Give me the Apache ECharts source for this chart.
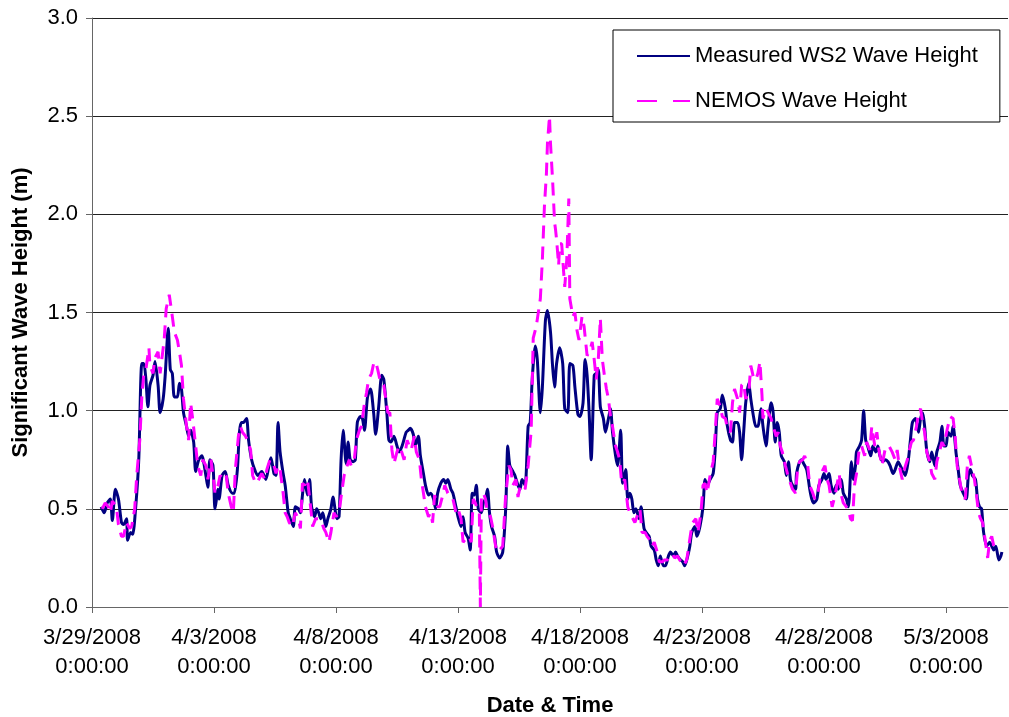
<!DOCTYPE html>
<html>
<head>
<meta charset="utf-8">
<script src="https://cdn.jsdelivr.net/npm/echarts@6/dist/echarts.min.js"></script>
<style>
  html, body { margin: 0; padding: 0; background: #ffffff; }
  #chart { width: 1009px; height: 717px; }
</style>
</head>
<body>
<div id="chart"></div>
<script>
// Time origin of the x axis: 3/29/2008 0:00:00, offsets are in hours
const startDate = Date.UTC(2008, 2, 29);
const xMaxHours = 901;
const dateTickHours = [0, 120, 240, 360, 480, 600, 720, 840];
const heightTicks = [0, 0.5, 1.0, 1.5, 2.0, 2.5, 3.0];

const seriesNames = ['Measured WS2 Wave Height', 'NEMOS Wave Height'];

// Measured WS2 significant wave height (m)
const measuredHours = [
  9, 12, 15, 18, 20, 23, 26, 29, 31, 34, 35, 38, 40, 43, 46, 49, 51, 53, 55, 57,
  60, 62, 65, 67, 70, 72, 75, 77, 79, 81, 84, 86, 88, 90, 93, 95, 97, 100, 102, 105,
  108, 112, 114, 116, 119, 121, 124, 125, 128, 131, 134, 138, 140, 143, 145, 147, 149, 152, 154, 157,
  160, 163, 167, 171, 174, 176, 179, 181, 183, 185, 188, 190, 193, 195, 198, 200, 203, 205, 207, 209,
  212, 214, 216, 219, 221, 223, 225, 227, 230, 232, 235, 237, 241, 243, 245, 247, 250, 252, 254, 257,
  259, 261, 264, 266, 268, 271, 274, 277, 279, 282, 285, 287, 290, 292, 294, 297, 300, 302, 305, 309,
  311, 313, 316, 318, 321, 323, 326, 328, 331, 333, 336, 338, 340, 343, 346, 348, 350, 353, 355, 358,
  360, 363, 365, 367, 370, 372, 374, 376, 378, 380, 383, 385, 387, 389, 391, 393, 396, 398, 401, 404,
  407, 409, 411, 414, 416, 419, 421, 423, 426, 429, 431, 433, 436, 438, 441, 443, 446, 448, 451, 453,
  455, 457, 460, 463, 465, 468, 470, 473, 475, 478, 480, 483, 485, 487, 489, 491, 494, 496, 498, 500,
  503, 505, 508, 510, 512, 515, 517, 520, 522, 525, 527, 529, 531, 533, 535, 538, 540, 543, 545, 548,
  550, 553, 555, 557, 559, 562, 564, 567, 569, 572, 574, 576, 579, 581, 583, 586, 588, 590, 593, 595,
  598, 601, 603, 605, 608, 611, 613, 615, 618, 620, 623, 625, 628, 630, 632, 635, 637, 639, 641, 643,
  646, 648, 651, 653, 655, 658, 660, 663, 665, 668, 670, 672, 674, 676, 678, 681, 683, 685, 687, 689,
  692, 693, 696, 698, 700, 703, 706, 708, 710, 713, 715, 718, 720, 722, 725, 727, 730, 732, 734, 737,
  739, 742, 744, 747, 749, 751, 752, 755, 757, 759, 761, 763, 766, 768, 771, 773, 775, 778, 780, 783,
  785, 788, 790, 793, 795, 797, 800, 803, 805, 807, 810, 813, 815, 817, 819, 821, 824, 826, 829, 831,
  834, 836, 838, 840, 842, 845, 847, 850, 852, 854, 857, 860, 862, 864, 866, 869, 871, 873, 875, 877,
  880, 883, 885, 887, 889, 892, 894, 895
];
const measuredHeight = [
  0.51, 0.48, 0.53, 0.55, 0.44, 0.60, 0.55, 0.43, 0.42, 0.45, 0.34, 0.38, 0.37, 0.51, 0.75, 1.24, 1.24, 1.16, 1.02, 1.13,
  1.18, 1.25, 1.13, 0.99, 1.06, 1.18, 1.42, 1.21, 1.19, 1.07, 1.07, 1.14, 1.11, 0.99, 0.92, 0.87, 0.90, 0.84, 0.69, 0.75,
  0.77, 0.67, 0.61, 0.75, 0.72, 0.50, 0.60, 0.55, 0.67, 0.69, 0.62, 0.58, 0.58, 0.70, 0.89, 0.94, 0.94, 0.96, 0.85, 0.75,
  0.70, 0.67, 0.69, 0.65, 0.72, 0.76, 0.68, 0.67, 0.94, 0.79, 0.68, 0.62, 0.48, 0.45, 0.41, 0.51, 0.50, 0.48, 0.57, 0.65,
  0.57, 0.65, 0.51, 0.46, 0.50, 0.48, 0.45, 0.48, 0.41, 0.45, 0.50, 0.56, 0.45, 0.46, 0.75, 0.90, 0.73, 0.84, 0.75, 0.74,
  0.75, 0.94, 0.97, 0.96, 0.90, 1.07, 1.11, 0.99, 0.88, 1.02, 1.18, 1.16, 0.99, 0.85, 0.84, 0.87, 0.82, 0.79, 0.82, 0.89,
  0.90, 0.91, 0.88, 0.82, 0.87, 0.77, 0.68, 0.62, 0.57, 0.58, 0.55, 0.50, 0.58, 0.63, 0.65, 0.63, 0.65, 0.60, 0.58, 0.51,
  0.46, 0.41, 0.46, 0.38, 0.35, 0.29, 0.58, 0.57, 0.62, 0.50, 0.48, 0.53, 0.55, 0.60, 0.48, 0.41, 0.36, 0.28, 0.25, 0.28,
  0.51, 0.82, 0.72, 0.69, 0.67, 0.62, 0.60, 0.65, 0.62, 0.92, 0.94, 1.16, 1.33, 1.26, 0.99, 1.12, 1.46, 1.51, 1.40, 1.23,
  1.12, 1.24, 1.32, 1.24, 1.01, 0.99, 1.24, 1.23, 1.12, 0.98, 0.97, 1.04, 1.26, 1.18, 0.99, 0.75, 1.18, 1.19, 1.21, 1.02,
  0.96, 0.89, 0.96, 1.01, 0.89, 0.77, 0.72, 0.90, 0.63, 0.70, 0.55, 0.58, 0.55, 0.48, 0.50, 0.45, 0.51, 0.40, 0.38, 0.36,
  0.31, 0.29, 0.24, 0.21, 0.26, 0.21, 0.21, 0.26, 0.28, 0.26, 0.28, 0.26, 0.24, 0.23, 0.21, 0.26, 0.31, 0.38, 0.41, 0.36,
  0.41, 0.51, 0.65, 0.62, 0.65, 0.68, 0.80, 0.99, 1.01, 1.08, 1.01, 0.92, 0.85, 0.84, 0.94, 0.94, 0.89, 0.75, 0.89, 1.04,
  1.14, 1.06, 0.96, 0.92, 0.92, 1.01, 0.92, 0.82, 0.92, 1.04, 0.99, 0.84, 0.94, 0.89, 0.77, 0.74, 0.67, 0.74, 0.65, 0.62,
  0.60, 0.68, 0.74, 0.75, 0.73, 0.70, 0.60, 0.55, 0.53, 0.55, 0.62, 0.65, 0.68, 0.65, 0.68, 0.62, 0.58, 0.62, 0.60, 0.65,
  0.58, 0.55, 0.51, 0.74, 0.65, 0.72, 0.79, 0.82, 0.85, 1.00, 0.85, 0.82, 0.77, 0.82, 0.79, 0.82, 0.77, 0.74, 0.75, 0.74,
  0.72, 0.68, 0.70, 0.74, 0.72, 0.70, 0.67, 0.75, 0.85, 0.94, 0.96, 0.89, 0.96, 0.99, 0.92, 0.80, 0.74, 0.79, 0.72, 0.79,
  0.84, 0.92, 0.82, 0.82, 0.89, 0.87, 0.92, 0.78, 0.70, 0.62, 0.58, 0.55, 0.67, 0.70, 0.67, 0.65, 0.55, 0.51, 0.50, 0.38,
  0.31, 0.33, 0.31, 0.29, 0.31, 0.24, 0.26, 0.28
];

// NEMOS modelled significant wave height (m)
const nemosHours = [
  10, 13, 16, 18, 20, 24, 26, 29, 31, 34, 37, 39, 42, 44, 47, 49, 51, 53, 56, 57,
  60, 62, 65, 67, 71, 73, 76, 79, 81, 84, 86, 88, 90, 93, 95, 97, 99, 102, 104, 107,
  109, 112, 114, 117, 120, 121, 124, 126, 130, 132, 134, 137, 139, 141, 144, 146, 148, 151, 153, 156,
  158, 161, 163, 167, 170, 172, 175, 179, 181, 183, 185, 188, 190, 192, 194, 197, 200, 203, 205, 207,
  209, 212, 215, 217, 220, 223, 226, 228, 230, 233, 235, 238, 240, 243, 245, 248, 251, 253, 255, 258,
  260, 263, 265, 268, 270, 272, 275, 277, 279, 281, 284, 287, 289, 291, 293, 295, 297, 300, 302, 304,
  307, 310, 312, 314, 317, 319, 322, 324, 326, 328, 331, 333, 335, 337, 340, 342, 345, 347, 350, 352,
  355, 358, 360, 363, 365, 368, 371, 373, 375, 377, 379, 381, 382, 383, 385, 387, 389, 392, 394, 397,
  399, 401, 404, 407, 408, 410, 412, 414, 417, 419, 421, 423, 426, 429, 432, 434, 437, 441, 443, 445,
  447, 448, 450, 451, 453, 455, 456, 457, 459, 460, 462, 464, 465, 467, 469, 470, 473, 475, 477, 479,
  482, 484, 487, 490, 492, 494, 496, 498, 500, 502, 504, 506, 508, 510, 512, 515, 517, 519, 521, 524,
  527, 529, 531, 534, 536, 539, 541, 544, 546, 549, 551, 553, 556, 558, 561, 563, 566, 568, 571, 573,
  576, 578, 580, 582, 585, 587, 589, 591, 594, 596, 599, 601, 603, 605, 608, 611, 613, 615, 618, 620,
  623, 625, 628, 630, 632, 635, 637, 639, 641, 643, 646, 648, 651, 653, 655, 657, 659, 660, 663, 665,
  668, 670, 673, 675, 677, 679, 682, 684, 687, 689, 692, 694, 696, 699, 701, 704, 706, 709, 711, 714,
  716, 719, 721, 723, 725, 728, 731, 733, 735, 737, 739, 742, 744, 746, 748, 750, 752, 755, 757, 760,
  762, 765, 767, 770, 772, 774, 777, 780, 782, 784, 787, 790, 792, 794, 797, 799, 802, 804, 806, 808,
  811, 813, 815, 817, 819, 821, 824, 826, 829, 831, 834, 836, 838, 841, 844, 847, 849, 851, 854, 856,
  859, 861, 863, 865, 868, 870, 872, 874, 876, 878, 881, 883, 885, 887, 890, 892
];
const nemosHeight = [
  0.50, 0.53, 0.51, 0.48, 0.54, 0.51, 0.42, 0.36, 0.36, 0.43, 0.40, 0.41, 0.50, 0.67, 0.85, 1.07, 1.19, 1.21, 1.32, 1.23,
  1.19, 1.27, 1.30, 1.19, 1.36, 1.52, 1.59, 1.48, 1.40, 1.36, 1.30, 1.23, 1.06, 0.92, 0.85, 1.04, 0.96, 0.82, 0.72, 0.67,
  0.75, 0.72, 0.65, 0.75, 0.63, 0.58, 0.62, 0.67, 0.65, 0.67, 0.58, 0.51, 0.48, 0.70, 0.87, 0.92, 0.89, 0.87, 0.85, 0.80,
  0.67, 0.63, 0.64, 0.68, 0.65, 0.70, 0.75, 0.72, 0.68, 0.72, 0.70, 0.58, 0.48, 0.46, 0.43, 0.41, 0.48, 0.45, 0.40, 0.63,
  0.62, 0.65, 0.51, 0.41, 0.45, 0.45, 0.43, 0.40, 0.38, 0.33, 0.38, 0.48, 0.46, 0.48, 0.56, 0.67, 0.72, 0.75, 0.72, 0.75,
  0.85, 0.90, 0.92, 1.04, 1.09, 1.16, 1.19, 1.24, 1.25, 1.21, 1.14, 1.13, 1.06, 0.99, 0.99, 0.80, 0.73, 0.79, 0.82, 0.80,
  0.75, 0.85, 0.82, 0.80, 0.87, 0.79, 0.75, 0.65, 0.58, 0.51, 0.46, 0.48, 0.43, 0.57, 0.51, 0.51, 0.57, 0.62, 0.58, 0.57,
  0.55, 0.48, 0.50, 0.45, 0.33, 0.35, 0.36, 0.33, 0.55, 0.53, 0.50, 0.48, 0.00, 0.56, 0.58, 0.55, 0.48, 0.46, 0.41, 0.31,
  0.28, 0.29, 0.31, 0.58, 0.62, 0.72, 0.70, 0.62, 0.65, 0.56, 0.61, 0.62, 0.60, 0.72, 0.90, 1.37, 1.43, 1.57, 1.77, 2.04,
  2.21, 2.36, 2.50, 2.36, 2.18, 1.96, 1.92, 1.87, 1.74, 1.85, 1.85, 1.70, 1.63, 1.77, 2.08, 1.57, 1.48, 1.50, 1.41, 1.36,
  1.48, 1.43, 1.28, 1.31, 1.35, 1.26, 1.16, 1.26, 1.47, 1.26, 1.18, 1.11, 1.06, 0.97, 0.92, 0.82, 0.79, 0.75, 0.63, 0.65,
  0.51, 0.48, 0.46, 0.43, 0.46, 0.50, 0.38, 0.38, 0.36, 0.34, 0.31, 0.33, 0.28, 0.23, 0.23, 0.24, 0.24, 0.26, 0.27, 0.25,
  0.26, 0.24, 0.23, 0.21, 0.24, 0.31, 0.38, 0.43, 0.45, 0.38, 0.48, 0.62, 0.63, 0.58, 0.67, 0.74, 0.89, 1.06, 1.02, 0.97,
  0.96, 0.91, 0.89, 1.04, 1.11, 1.06, 0.99, 1.13, 1.14, 1.06, 1.09, 1.23, 1.16, 1.16, 1.19, 1.25, 1.08, 0.96, 1.01, 0.99,
  0.96, 0.92, 0.87, 0.89, 0.82, 0.79, 0.72, 0.68, 0.63, 0.60, 0.58, 0.70, 0.74, 0.75, 0.77, 0.72, 0.62, 0.58, 0.55, 0.58,
  0.65, 0.70, 0.72, 0.65, 0.62, 0.51, 0.57, 0.63, 0.68, 0.57, 0.53, 0.51, 0.50, 0.45, 0.44, 0.62, 0.68, 0.82, 0.82, 0.77,
  0.84, 0.80, 0.92, 0.82, 0.89, 0.80, 0.72, 0.80, 0.82, 0.82, 0.79, 0.75, 0.80, 0.72, 0.65, 0.70, 0.75, 0.80, 0.84, 0.85,
  0.92, 0.99, 1.01, 0.94, 0.89, 0.79, 0.74, 0.68, 0.65, 0.74, 0.80, 0.84, 0.82, 0.90, 0.97, 0.96, 0.87, 0.72, 0.63, 0.57,
  0.55, 0.72, 0.77, 0.72, 0.65, 0.57, 0.48, 0.45, 0.43, 0.36, 0.25, 0.34, 0.36, 0.31, 0.29, 0.28
];

const pairs = (xs, ys) => xs.map((x, i) => [x, ys[i]]);

function formatDateTick(hours) {
  const d = new Date(startDate + hours * 3600000);
  const hh = d.getUTCHours();
  const mm = String(d.getUTCMinutes()).padStart(2, '0');
  const ss = String(d.getUTCSeconds()).padStart(2, '0');
  return (d.getUTCMonth() + 1) + '/' + d.getUTCDate() + '/' + d.getUTCFullYear() +
    '\n' + hh + ':' + mm + ':' + ss;
}

const FONT = '"Liberation Sans", Arial, sans-serif';

const chart = echarts.init(document.getElementById('chart'), null, { renderer: 'canvas' });
chart.setOption({
  backgroundColor: '#ffffff',
  animation: false,
  textStyle: { fontFamily: FONT, color: '#000' },
  grid: { left: 92, right: 1, top: 18, bottom: 110, containLabel: false, outerBoundsMode: 'none' },
  legend: {
    orient: 'vertical',
    left: 613,
    top: 30,
    padding: [13, 22, 8, 23],
    itemGap: 19,
    itemWidth: 53,
    itemHeight: 26,
    borderColor: '#000',
    borderWidth: 1,
    backgroundColor: '#fff',
    itemStyle: { opacity: 0 },
    textStyle: { fontFamily: FONT, fontSize: 22, color: '#000', lineHeight: 26 },
    data: [
      { name: seriesNames[0] },
      { name: seriesNames[1], lineStyle: { type: [20, 16] } }
    ]
  },
  xAxis: {
    type: 'value',
    min: 0,
    max: xMaxHours,
    name: 'Date & Time',
    nameLocation: 'middle',
    nameGap: 88,
    nameTextStyle: { fontFamily: FONT, fontSize: 22, fontWeight: 'bold', color: '#000' },
    axisLine: { show: true, onZero: false, lineStyle: { color: '#666', width: 1 } },
    axisTick: { show: true, inside: false, length: 6, customValues: dateTickHours, lineStyle: { color: '#666' } },
    axisLabel: {
      customValues: dateTickHours,
      formatter: formatDateTick,
      margin: 16,
      fontFamily: FONT, fontSize: 22, color: '#000', lineHeight: 29, align: 'center'
    },
    splitLine: { show: false }
  },
  yAxis: {
    type: 'value',
    min: 0,
    max: 3,
    interval: 0.5,
    name: 'Significant Wave Height (m)',
    nameLocation: 'middle',
    nameGap: 60,
    nameTextStyle: { fontFamily: FONT, fontSize: 22, fontWeight: 'bold', color: '#000' },
    axisLine: { show: true, lineStyle: { color: '#666', width: 1 } },
    axisTick: { show: true, inside: false, length: 6, lineStyle: { color: '#666' } },
    axisLabel: {
      formatter: v => v.toFixed(1),
      margin: 14,
      fontFamily: FONT, fontSize: 22, color: '#000'
    },
    splitLine: { show: true, lineStyle: { color: '#222', width: 1 } }
  },
  series: [
    {
      name: seriesNames[0],
      type: 'line',
      data: pairs(measuredHours, measuredHeight),
      showSymbol: false,
      symbol: 'none',
      smooth: 0.25,
      lineStyle: { color: '#000080', width: 3 },
      itemStyle: { color: '#000080' },
      z: 2
    },
    {
      name: seriesNames[1],
      type: 'line',
      data: pairs(nemosHours, nemosHeight),
      showSymbol: false,
      symbol: 'none',
      lineStyle: { color: '#ff00ff', width: 3, type: [13, 8] },
      itemStyle: { color: '#ff00ff' },
      z: 3
    }
  ]
});
</script>
</body>
</html>
